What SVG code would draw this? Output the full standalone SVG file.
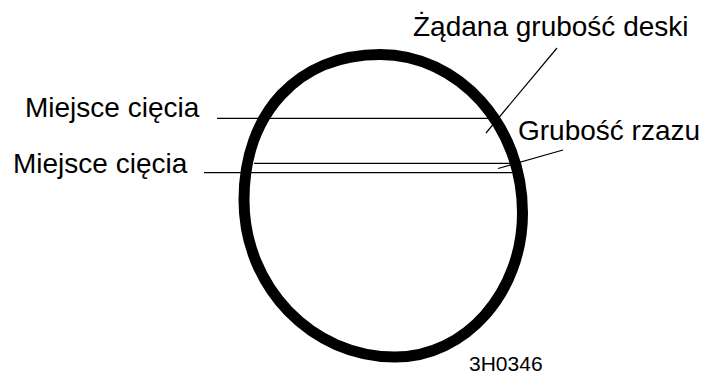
<svg xmlns="http://www.w3.org/2000/svg" width="705" height="375" viewBox="0 0 705 375">
<style>
.lbl{font-family:"Liberation Sans",Arial,sans-serif;font-size:28px;fill:#000}
.code{font-family:"Liberation Sans",Arial,sans-serif;font-size:21px;fill:#000}
.ln{stroke:#000;stroke-width:1.2;fill:none}
</style>
<rect width="705" height="375" fill="#fff"/>
<g id="log">
<path d="M380,54.5 C458.7,54.5 522.5,125.5 522.5,213 C522.5,292.5 465.4,357 395,357 C311.6,357 244,286.7 244,200 C244,113 298.4,54.5 380,54.5 Z" fill="none" stroke="#000" stroke-width="11"/>
</g>
<g id="connectors">
<line class="ln" x1="217" y1="118.3" x2="490" y2="118.3"/>
<line class="ln" x1="254" y1="163.3" x2="510" y2="163.3"/>
<line class="ln" x1="204" y1="172.7" x2="512" y2="172.7"/>
<line class="ln" x1="557" y1="48" x2="486" y2="133"/>
<line class="ln" x1="563" y1="150" x2="498" y2="168.5"/>
</g>
<g id="label-zadana"><text class="lbl" x="413" y="36">Żądana grubość deski</text></g>
<g id="label-rzaz"><text class="lbl" x="518" y="140">Grubość rzazu</text></g>
<g id="label-ciecie1"><text class="lbl" x="25" y="117">Miejsce cięcia</text></g>
<g id="label-ciecie2"><text class="lbl" x="13" y="173">Miejsce cięcia</text></g>
<g id="label-code"><text class="code" x="469" y="370.5">3H0346</text></g>
</svg>
